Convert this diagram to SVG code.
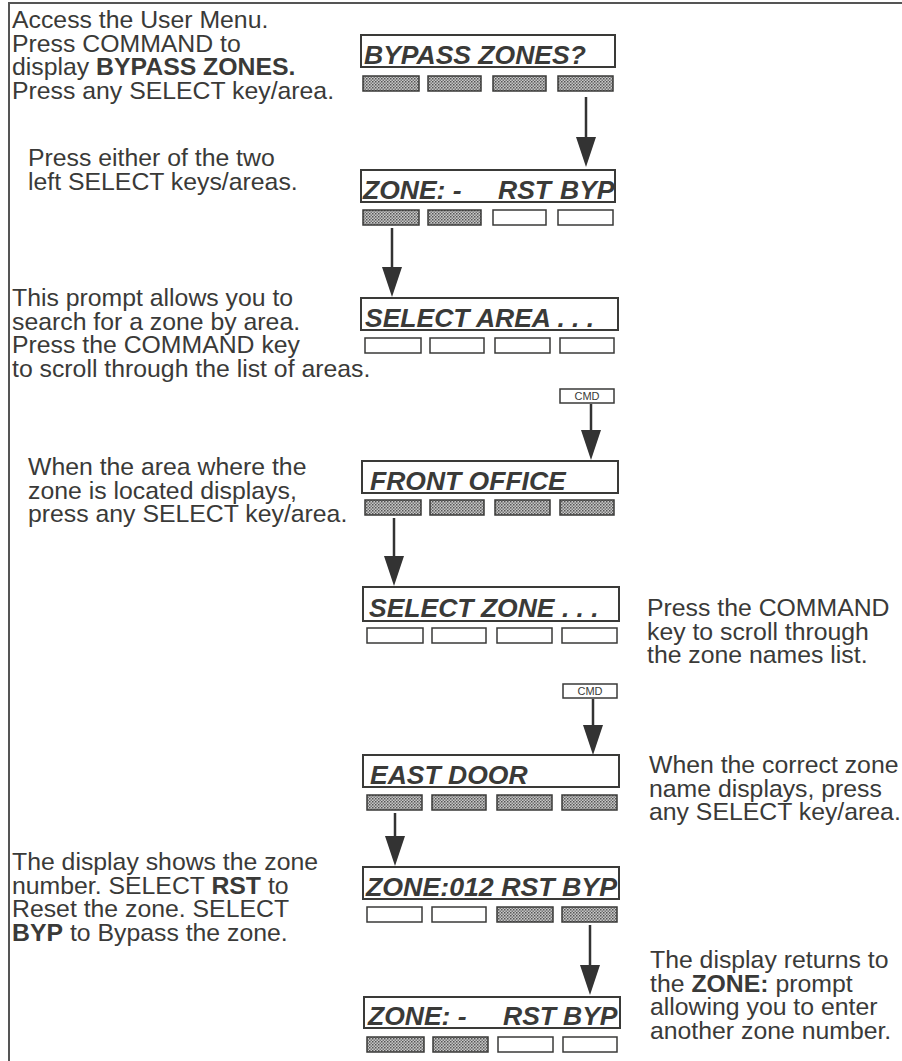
<svg xmlns="http://www.w3.org/2000/svg" width="902" height="1061" viewBox="0 0 902 1061">
<defs>
<pattern id="dots" width="3" height="3" patternUnits="userSpaceOnUse">
<rect width="3" height="3" fill="#c8c8c8"/>
<rect x="0" y="0" width="1.5" height="1.5" fill="#555"/>
<rect x="1.5" y="1.5" width="1.5" height="1.5" fill="#777"/>
</pattern>
<marker id="ah" viewBox="0 0 30 20" refX="0" refY="10" markerWidth="30" markerHeight="20" markerUnits="userSpaceOnUse" orient="auto">
<path d="M0,0 L30,10 L0,20 Z" fill="#333"/>
</marker>
</defs>
<style>
.t{font-family:"Liberation Sans",Arial,sans-serif;font-size:24.8px;fill:#3a3a38}
.b{font-weight:bold}
.d{font-family:"Liberation Sans",Arial,sans-serif;font-size:26.5px;font-weight:bold;font-style:italic;fill:#3a3a38}
.box{fill:#fff;stroke:#3a3a38;stroke-width:2}
.k{fill:#fff;stroke:#3a3a38;stroke-width:1.5}
.ks{fill:url(#dots);stroke:#3a3a38;stroke-width:1.5}
.cmd{font-family:"Liberation Sans",Arial,sans-serif;font-size:11px;fill:#3a3a38}
.ar{stroke:#333;stroke-width:2.5;fill:none}
</style>
<rect width="902" height="1061" fill="#fff"/>
<path d="M9,1061 V3 H902" fill="none" stroke="#555" stroke-width="2"/>

<g id="text1" class="t">
<text x="12" y="28">Access the User Menu.</text>
<text x="12" y="51.5">Press COMMAND to</text>
<text x="12" y="75">display <tspan class="b">BYPASS ZONES.</tspan></text>
<text x="12" y="98.5">Press any SELECT key/area.</text>
</g>
<g id="text2" class="t">
<text x="28" y="166">Press either of the two</text>
<text x="28" y="189.5">left SELECT keys/areas.</text>
</g>
<g id="text3" class="t">
<text x="12" y="306">This prompt allows you to</text>
<text x="12" y="329.5">search for a zone by area.</text>
<text x="12" y="353">Press the COMMAND key</text>
<text x="12" y="376.5">to scroll through the list of areas.</text>
</g>
<g id="text4" class="t">
<text x="28" y="475">When the area where the</text>
<text x="28" y="498.5">zone is located displays,</text>
<text x="28" y="522">press any SELECT key/area.</text>
</g>
<g id="text5" class="t">
<text x="647" y="616">Press the COMMAND</text>
<text x="647" y="639.5">key to scroll through</text>
<text x="647" y="663">the zone names list.</text>
</g>
<g id="text6" class="t">
<text x="649" y="773">When the correct zone</text>
<text x="649" y="796.5">name displays, press</text>
<text x="649" y="820">any SELECT key/area.</text>
</g>
<g id="text7" class="t">
<text x="12" y="870">The display shows the zone</text>
<text x="12" y="893.5">number. SELECT <tspan class="b">RST</tspan> to</text>
<text x="12" y="917">Reset the zone. SELECT</text>
<text x="12" y="940.5"><tspan class="b">BYP</tspan> to Bypass the zone.</text>
</g>
<g id="text8" class="t">
<text x="650" y="968">The display returns to</text>
<text x="650" y="991.5">the <tspan class="b">ZONE:</tspan> prompt</text>
<text x="650" y="1015">allowing you to enter</text>
<text x="650" y="1038.5">another zone number.</text>
</g>

<g id="disp1">
<rect class="box" x="361" y="35" width="254" height="32"/>
<text class="d" x="364" y="64">BYPASS ZONES?</text>
<rect class="ks" x="363" y="76" width="56" height="15"/>
<rect class="ks" x="428" y="76" width="53" height="15"/>
<rect class="ks" x="493" y="76" width="53" height="15"/>
<rect class="ks" x="558" y="76" width="55" height="15"/>
</g>
<g id="disp2">
<rect class="box" x="361" y="170" width="254" height="32"/>
<text class="d" y="199"><tspan x="363">ZONE: -</tspan><tspan x="498">RST</tspan><tspan x="560">BYP</tspan></text>
<rect class="ks" x="363" y="210" width="56" height="15"/>
<rect class="ks" x="428" y="210" width="53" height="15"/>
<rect class="k" x="493" y="210" width="53" height="15"/>
<rect class="k" x="558" y="210" width="55" height="15"/>
</g>
<g id="disp3">
<rect class="box" x="361" y="298" width="257" height="32"/>
<text class="d" x="365" y="327">SELECT AREA . . .</text>
<rect class="k" x="365" y="338" width="56" height="15"/>
<rect class="k" x="430" y="338" width="54" height="15"/>
<rect class="k" x="495" y="338" width="55" height="15"/>
<rect class="k" x="560" y="338" width="54" height="15"/>
</g>
<g id="cmd1">
<rect class="k" x="560" y="389" width="54" height="14"/>
<text class="cmd" x="587" y="400" text-anchor="middle">CMD</text>
</g>
<g id="disp4">
<rect class="box" x="362" y="461" width="256" height="32"/>
<text class="d" x="370" y="490">FRONT OFFICE</text>
<rect class="ks" x="365" y="500" width="56" height="15"/>
<rect class="ks" x="430" y="500" width="54" height="15"/>
<rect class="ks" x="495" y="500" width="55" height="15"/>
<rect class="ks" x="560" y="500" width="54" height="15"/>
</g>
<g id="disp5">
<rect class="box" x="363" y="587" width="256" height="34"/>
<text class="d" x="369" y="617">SELECT ZONE . . .</text>
<rect class="k" x="367" y="628" width="56" height="15"/>
<rect class="k" x="432" y="628" width="54" height="15"/>
<rect class="k" x="497" y="628" width="55" height="15"/>
<rect class="k" x="562" y="628" width="55" height="15"/>
</g>
<g id="cmd2">
<rect class="k" x="563" y="684" width="54" height="14"/>
<text class="cmd" x="590" y="695" text-anchor="middle">CMD</text>
</g>
<g id="disp6">
<rect class="box" x="363" y="755" width="256" height="32"/>
<text class="d" x="370" y="784">EAST DOOR</text>
<rect class="ks" x="367" y="795" width="55" height="15"/>
<rect class="ks" x="432" y="795" width="54" height="15"/>
<rect class="ks" x="497" y="795" width="55" height="15"/>
<rect class="ks" x="562" y="795" width="55" height="15"/>
</g>
<g id="disp7">
<rect class="box" x="363" y="867" width="256" height="32"/>
<text class="d" x="366" y="896" textLength="251" lengthAdjust="spacingAndGlyphs">ZONE:012 RST BYP</text>
<rect class="k" x="367" y="907" width="55" height="15"/>
<rect class="k" x="432" y="907" width="54" height="15"/>
<rect class="ks" x="497" y="907" width="56" height="15"/>
<rect class="ks" x="562" y="907" width="55" height="15"/>
</g>
<g id="disp8">
<rect class="box" x="364" y="997" width="256" height="31"/>
<text class="d" y="1025"><tspan x="368">ZONE: -</tspan><tspan x="503">RST</tspan><tspan x="563">BYP</tspan></text>
<rect class="ks" x="367" y="1037" width="57" height="15"/>
<rect class="ks" x="433" y="1037" width="55" height="15"/>
<rect class="k" x="498" y="1037" width="55" height="15"/>
<rect class="k" x="563" y="1037" width="54" height="15"/>
</g>

<g id="connectors">
<line class="ar" x1="586" y1="97" x2="586" y2="137" marker-end="url(#ah)"/>
<line class="ar" x1="392" y1="228" x2="392" y2="267" marker-end="url(#ah)"/>
<line class="ar" x1="591" y1="404" x2="591" y2="430" marker-end="url(#ah)"/>
<line class="ar" x1="394" y1="518" x2="394" y2="556" marker-end="url(#ah)"/>
<line class="ar" x1="593" y1="699" x2="593" y2="725" marker-end="url(#ah)"/>
<line class="ar" x1="395" y1="813" x2="395" y2="836" marker-end="url(#ah)"/>
<line class="ar" x1="590" y1="925" x2="590" y2="965" marker-end="url(#ah)"/>
</g>
</svg>
